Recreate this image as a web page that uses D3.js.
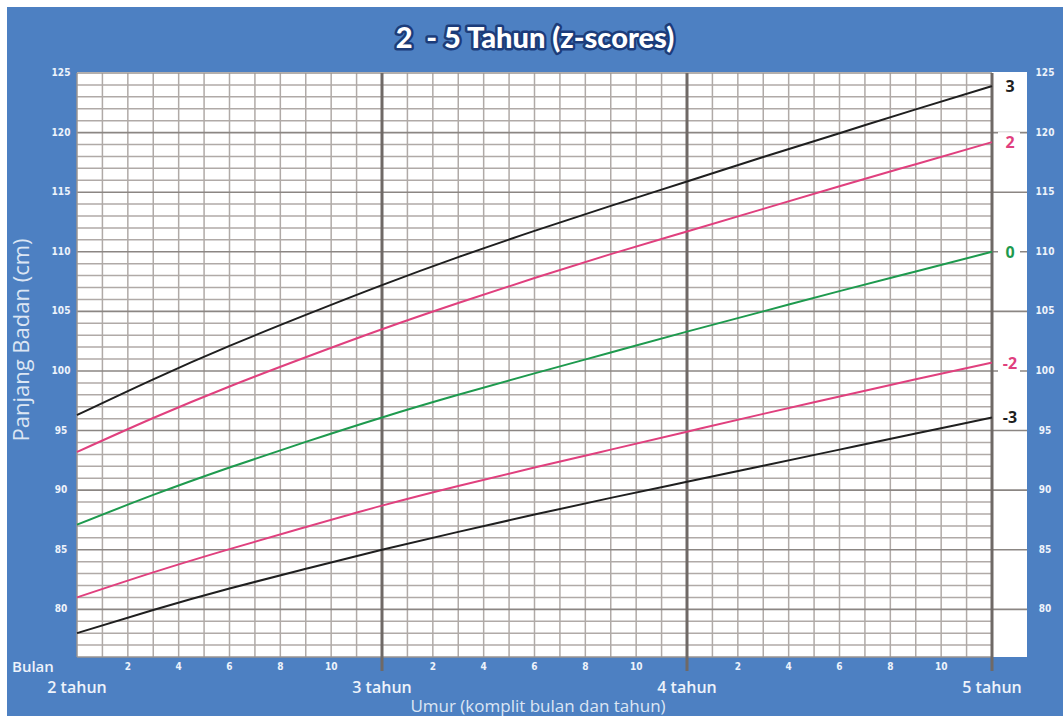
<!DOCTYPE html>
<html>
<head>
<meta charset="utf-8">
<script src="https://cdn.jsdelivr.net/npm/d3@7"></script>
<style>
html,body{margin:0;padding:0;background:#fff;}
svg{display:block;}
</style>
</head>
<body>
<svg id="chart" width="1063" height="716"></svg>
<script>
// ---- data (height-for-age z-score curves) ----
const months = [24, 27, 30, 33, 36, 39, 42, 45, 48, 51, 54, 57, 60];
const zPlus3  = [96.3, 99.3, 102.1, 104.7, 107.2, 109.55, 111.75, 113.85, 115.9, 117.95, 119.95, 121.95, 123.9];
const zPlus2  = [93.2, 96.05, 98.7, 101.15, 103.5, 105.7, 107.8, 109.8, 111.7, 113.6, 115.5, 117.35, 119.2];
const zZero   = [87.1, 89.6, 91.9, 94.05, 96.1, 98.0, 99.8, 101.55, 103.3, 105.0, 106.7, 108.35, 110.0];
const zMinus2 = [81.0, 83.1, 85.05, 86.9, 88.7, 90.35, 91.9, 93.4, 94.9, 96.4, 97.85, 99.3, 100.7];
const zMinus3 = [78.0, 79.95, 81.75, 83.4, 85.0, 86.5, 87.95, 89.35, 90.7, 92.05, 93.4, 94.75, 96.1];
const seriesNames = ["3", "2", "0", "-2", "-3"];
const seriesColors = ["#1f1f1f", "#e0407e", "#1e9a4e", "#e0407e", "#1f1f1f"];
const yTicks = [80, 85, 90, 95, 100, 105, 110, 115, 120, 125];
const monthTickLabels = [2, 4, 6, 8, 10];
const yearLabels = ["2 tahun", "3 tahun", "4 tahun", "5 tahun"];
const yearMonths = [24, 36, 48, 60];
const titleText = "2  - 5 Tahun (z-scores)";
const xAxisTitle = "Umur (komplit bulan dan tahun)";
const yAxisTitle = "Panjang Badan (cm)";

const seriesValues = [zPlus3, zPlus2, zZero, zMinus2, zMinus3];

// ---- layout ----
const svg = d3.select("#chart");
const W = 1063, H = 716;
const pL = 77, pR = 992, pT = 73, pB = 657, panelRight = 1027;
const blue = "#4d80c2";

const x = d3.scaleLinear().domain([24, 60]).range([pL, pR]);
const y = d3.scaleLinear().domain([76, 125]).range([pB, pT]);

svg.append("rect").attr("width", W).attr("height", H).attr("fill", "#fff");
svg.append("rect").attr("x", 7).attr("y", 7).attr("width", W - 7).attr("height", H - 7).attr("fill", blue);
svg.append("rect").attr("x", pL).attr("y", pT - 1).attr("width", panelRight - pL).attr("height", pB - pT + 1).attr("fill", "#fff");

// title
svg.append("text")
  .attr("x", 535).attr("y", 48)
  .attr("text-anchor", "middle")
  .attr("font-family", "Lato, 'Open Sans', sans-serif")
  .attr("font-weight", 900)
  .attr("font-size", 29)
  .attr("fill", "#fff")
  .attr("stroke", "#1c3c7a")
  .attr("stroke-width", 5)
  .attr("paint-order", "stroke")
  .attr("stroke-linejoin", "round")
  .style("white-space", "pre")
  .text(titleText);

const grid = svg.append("g");
const cmLines = d3.range(77, 125).filter(v => v % 5 !== 0);
grid.selectAll(".hmin").data(cmLines).join("line")
  .attr("x1", pL).attr("x2", pR)
  .attr("y1", d => y(d)).attr("y2", d => y(d))
  .attr("stroke", "#b0aaa7").attr("stroke-width", 1.5);
const mLines = d3.range(24, 61).filter(v => v % 12 !== 0);
grid.selectAll(".vmin").data(mLines).join("line")
  .attr("x1", d => x(d)).attr("x2", d => x(d))
  .attr("y1", pT).attr("y2", pB)
  .attr("stroke", "#b0aaa7").attr("stroke-width", 1.5);
grid.selectAll(".hmaj").data(yTicks.filter(v => v < 125)).join("line")
  .attr("x1", pL).attr("x2", panelRight)
  .attr("y1", d => y(d)).attr("y2", d => y(d))
  .attr("stroke", "#8b8683").attr("stroke-width", 1.6);
grid.append("line").attr("x1", pL).attr("x2", pR).attr("y1", y(125)).attr("y2", y(125))
  .attr("stroke", "#9a9592").attr("stroke-width", 1.5);
grid.append("line").attr("x1", pL).attr("x2", pL).attr("y1", pT).attr("y2", pB)
  .attr("stroke", "#9a9592").attr("stroke-width", 1.5);
grid.append("line").attr("x1", pL).attr("x2", pR).attr("y1", pB).attr("y2", pB)
  .attr("stroke", "#9a9592").attr("stroke-width", 1.5);
grid.selectAll(".vyear").data([36, 48, 60]).join("line")
  .attr("x1", d => x(d)).attr("x2", d => x(d))
  .attr("y1", pT).attr("y2", pB + 14)
  .attr("stroke", "#6f6966").attr("stroke-width", 3);

// curves
const line = d3.line().x((d, i) => x(months[i])).y(d => y(d)).curve(d3.curveNatural);
svg.append("g").selectAll("path").data(seriesValues).join("path")
  .attr("d", d => line(d))
  .attr("fill", "none")
  .attr("stroke", (d, i) => seriesColors[i])
  .attr("stroke-width", 2);

// end labels
const lab = svg.append("g");
seriesValues.forEach((vals, i) => {
  const yy = y(vals[vals.length - 1]);
  lab.append("rect").attr("x", 998).attr("y", yy - 10).attr("width", 22).attr("height", 20).attr("fill", "#fff");
  lab.append("text")
    .attr("x", 1010).attr("y", yy + 6)
    .attr("text-anchor", "middle")
    .attr("font-family", "'Open Sans', sans-serif")
    .attr("font-weight", 700)
    .attr("font-size", 16)
    .attr("fill", seriesColors[i])
    .text(seriesNames[i]);
});

// y tick labels, both sides
const tickFont = "'Liberation Sans Narrow', 'DejaVu Sans Condensed', sans-serif";
[61, 1045].forEach(tx => {
  svg.append("g").selectAll("text").data(yTicks).join("text")
    .attr("x", tx).attr("y", d => y(d) + 3)
    .attr("text-anchor", "middle")
    .attr("font-family", tickFont)
    .attr("font-weight", 700)
    .attr("font-size", 10)
    .attr("fill", "#eef3fb")
    .text(d => d);
});

// month tick labels
const monthTicks = [];
[24, 36, 48].forEach(base => monthTickLabels.forEach(m => monthTicks.push({v: base + m, t: m})));
svg.append("g").selectAll("text").data(monthTicks).join("text")
  .attr("x", d => x(d.v)).attr("y", 670)
  .attr("text-anchor", "middle")
  .attr("font-family", tickFont)
  .attr("font-weight", 700)
  .attr("font-size", 10)
  .attr("fill", "#eef3fb")
  .text(d => d.t);

svg.append("text").attr("x", 12).attr("y", 672)
  .attr("font-family", "'Open Sans', sans-serif").attr("font-weight", 600)
  .attr("font-size", 15).attr("fill", "#eef3fb").text("Bulan");

svg.append("g").selectAll("text").data(yearLabels).join("text")
  .attr("x", (d, i) => x(yearMonths[i])).attr("y", 693)
  .attr("text-anchor", "middle")
  .attr("font-family", "'Open Sans', sans-serif").attr("font-weight", 600)
  .attr("font-size", 16).attr("fill", "#eef3fb")
  .text(d => d);

svg.append("text").attr("x", 538).attr("y", 712)
  .attr("text-anchor", "middle")
  .attr("font-family", "'Open Sans', sans-serif")
  .attr("font-size", 17).attr("fill", "#dce6f4").text(xAxisTitle);

svg.append("text")
  .attr("transform", "translate(29,340) rotate(-90)")
  .attr("text-anchor", "middle")
  .attr("font-family", "'Open Sans', sans-serif")
  .attr("font-size", 22).attr("fill", "#dce6f4").text(yAxisTitle);
</script>
</body>
</html>
